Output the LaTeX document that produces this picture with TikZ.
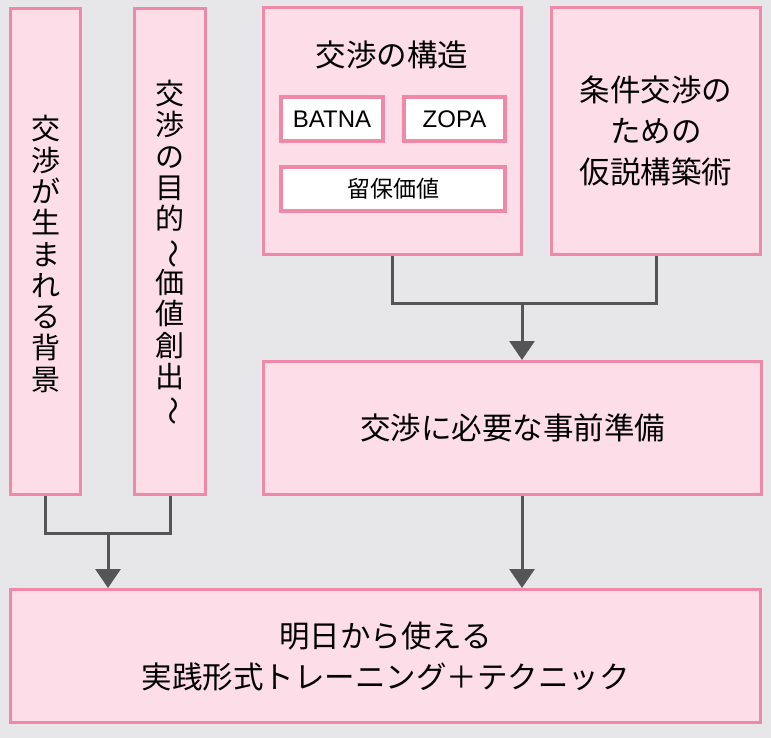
\documentclass[tikz,border=0pt]{standalone}
\usepackage{graphicx}
\usepackage{fontspec}
\setmainfont{Noto Sans CJK JP}
\newfontfamily\latinfont{Liberation Sans}
\usepackage{tikz}
\usetikzlibrary{arrows.meta}
\definecolor{bggray}{HTML}{E7E6E9}
\definecolor{boxpink}{HTML}{FCDDE8}
\definecolor{edgepink}{HTML}{F088A8}
\definecolor{arrowgray}{HTML}{555555}
\newcommand{\vwave}{\rotatebox[origin=c]{-90}{〜}}

\begin{document}
\begin{tikzpicture}[x=1pt, y=-1pt,
  box/.style={rectangle, draw=edgepink, fill=boxpink, line width=3pt, inner sep=0pt},
  subbox/.style={rectangle, draw=edgepink, fill=white, line width=3.5pt, inner sep=0pt, minimum height=44pt},
  txt/.style={align=center, font=\fontsize{30.5}{41}\selectfont},
  vtxt/.style={align=center, font=\fontsize{29}{31.3}\selectfont},
  link/.style={draw=arrowgray, line width=3pt},
  arrow/.style={link, -{Triangle[width=25pt, length=19pt]}}]
\fill[bggray] (0,0) rectangle (771,738);
\useasboundingbox (0,0) rectangle (771,738);

\node (BG) at (45.5,251.5) [box, minimum width=70pt, minimum height=486pt] {};
\node (PU) at (170,251.5) [box, minimum width=71pt, minimum height=486pt] {};
\node (ST) at (392.5,131) [box, minimum width=258pt, minimum height=247pt] {};
\node (HY) at (656,131) [box, minimum width=209pt, minimum height=247pt, txt] {条件交渉の\\ための\\仮説構築術};
\node (PR) at (512.5,428) [box, minimum width=498pt, minimum height=133pt, txt] {交渉に必要な事前準備};
\node (FIN) at (385.5,656) [box, minimum width=750pt, minimum height=133pt, txt] {明日から使える\\実践形式トレーニング＋テクニック};

\node (BGtext) at (46,254) [vtxt] {交\\渉\\が\\生\\ま\\れ\\る\\背\\景};
\node (PUtext) at (170,253) [vtxt] {交\\渉\\の\\目\\的\\\vwave\\価\\値\\創\\出\\\vwave};

\node (STtitle) at (392,55) [txt] {交渉の構造};
\node (BATNA) at (332,119) [subbox, minimum width=102pt, font=\latinfont\fontsize{24}{28}\selectfont] {BATNA};
\node (ZOPA) at (454.5,119) [subbox, minimum width=101pt, font=\latinfont\fontsize{24}{28}\selectfont] {ZOPA};
\node (RV) at (393,189) [subbox, minimum width=224pt, font=\fontsize{23}{28}\selectfont] {留保価値};

\coordinate (J1) at (108,533);
\coordinate (J2) at (522,303);
\draw [link] (BG.south) |- (J1) -| (PU.south);
\draw [arrow] (J1) -- (J1 |- FIN.north);
\draw [link] (ST.south) |- (J2) -| (HY.south);
\draw [arrow] (J2) -- (J2 |- PR.north);
\draw [arrow] (J2 |- PR.south) -- (J2 |- FIN.north);
\end{tikzpicture}
\end{document}
